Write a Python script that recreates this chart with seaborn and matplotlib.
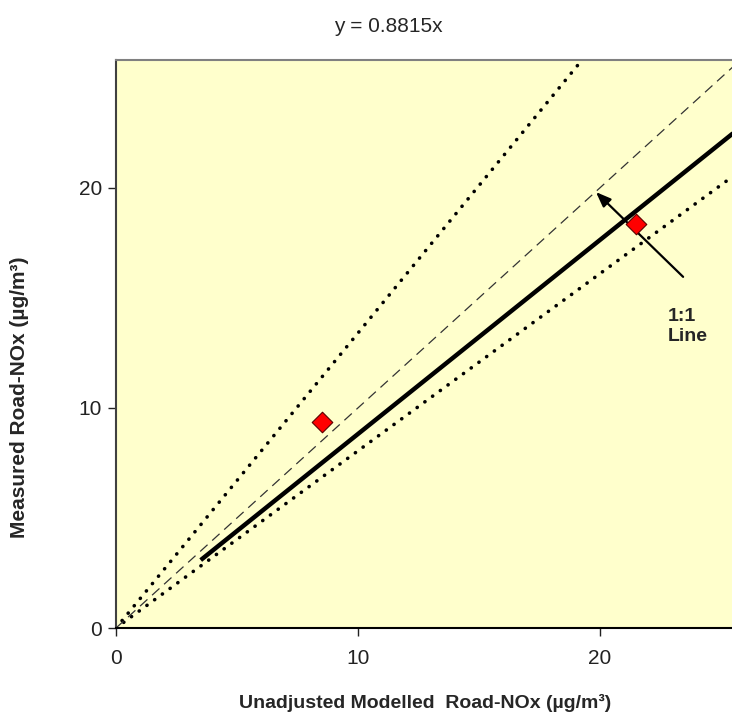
import matplotlib
matplotlib.use("Agg")
import matplotlib.pyplot as plt
import numpy as np
import pandas as pd
import seaborn as sns

# measured vs unadjusted modelled road-NOx (ug/m3)
modelled = [8.5, 21.5]
measured = [9.35, 18.35]

fit_slope = 0.8815
fit_x = [3.5, 26.0]
upper_slope = 1.34
lower_slope = 0.805
ref_x = [0.0, 26.0]

x_ticks = [0, 10, 20]
y_ticks = [0, 10, 20]
x_max = 25.45
y_max = 25.8

sns.set_style("white")
plt.rcParams["font.family"] = ["Liberation Sans", "DejaVu Sans"]

fig = plt.figure(figsize=(7.32, 7.2), dpi=100)
ax = fig.add_axes([116 / 732, 92 / 720, 616 / 732, 568 / 720])
ax.set_facecolor("#FFFFCC")

ref_x = np.array(ref_x)
fit_x = np.array(fit_x)

# +/- envelope lines
dots = (0, (0.05, 2.6))
ax.plot(ref_x, ref_x * upper_slope, color="black", lw=2.6,
        linestyle=dots, dash_capstyle="round")
ax.plot(ref_x, ref_x * lower_slope, color="black", lw=2.6,
        linestyle=dots, dash_capstyle="round")
# 1:1 line
ax.plot(ref_x, ref_x, color="#333333", lw=0.9, linestyle=(0, (8, 5)))

fit_df = pd.DataFrame({"x": fit_x, "y": fit_x * fit_slope})
sns.lineplot(data=fit_df, x="x", y="y", ax=ax, color="black", lw=3.2,
             solid_capstyle="butt")

pts = pd.DataFrame({"modelled": modelled, "measured": measured})
sns.scatterplot(data=pts, x="modelled", y="measured", ax=ax, marker="D",
                s=110, color="#FF0000", edgecolor="#5a0000", linewidth=0.8,
                zorder=5)

ax.annotate("", xy=(19.83, 19.8), xytext=(23.43, 15.95),
            arrowprops=dict(arrowstyle="-|>,head_length=0.9,head_width=0.35",
                            color="black", lw=1.6, shrinkA=0, shrinkB=0))
ax.text(22.8, 13.7, "1:1\nLine", fontsize=14, fontweight="bold",
        ha="left", va="center", linespacing=1.25)

ax.set_xlim(0, x_max)
ax.set_ylim(0, y_max)
ax.set_xticks(x_ticks)
ax.set_yticks(y_ticks)
ax.tick_params(axis="both", labelsize=15, colors="#222222")
ax.tick_params(axis="y", length=6, width=1, direction="out", left=True, pad=4)
ax.tick_params(axis="x", length=6, width=1, direction="out", bottom=True, pad=9)
ax.set_xlabel("")
ax.set_ylabel("")

ax.spines["top"].set_color("#808080")
ax.spines["top"].set_linewidth(1.5)
ax.spines["left"].set_color("#404040")
ax.spines["left"].set_linewidth(1.5)
ax.spines["bottom"].set_color("black")
ax.spines["bottom"].set_linewidth(1.5)
ax.spines["right"].set_visible(False)

fig.text(388 / 732, 1 - 27 / 720, "y = 0.8815x", fontsize=15,
         ha="center", va="center")
fig.text(425 / 732, 1 - 703 / 720, "Unadjusted Modelled  Road-NOx (\u00b5g/m\u00b3)",
         fontsize=14, fontweight="bold", ha="center", va="center")
fig.text(20 / 732, 1 - 397 / 720, "Measured Road-NOx (\u00b5g/m\u00b3)",
         fontsize=15, fontweight="bold", ha="center", va="center", rotation=90)

fig.savefig("out.png", dpi=100)
